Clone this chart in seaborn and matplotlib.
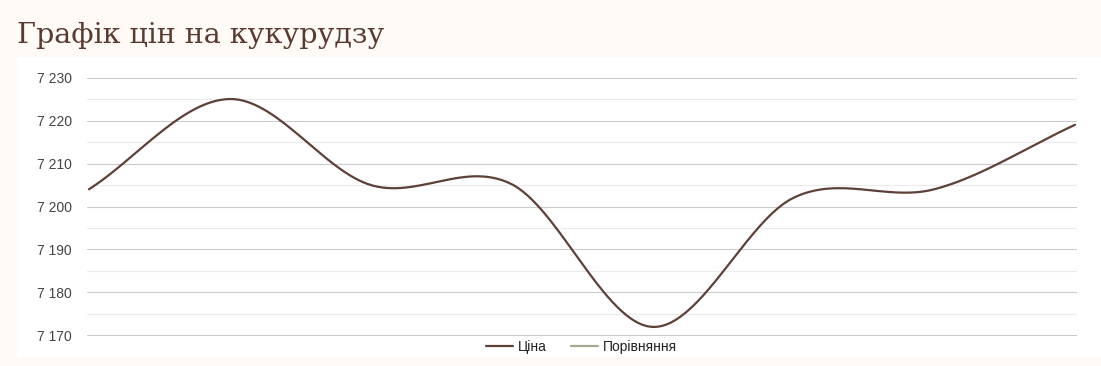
import numpy as np
import pandas as pd
import matplotlib
matplotlib.use("Agg")
import matplotlib.pyplot as plt
from matplotlib.lines import Line2D
from matplotlib.patches import Rectangle
from matplotlib.ticker import MultipleLocator, FuncFormatter
import seaborn as sns

# ---- data ----
title = "Графік цін на кукурудзу"
series_names = ["Ціна", "Порівняння"]
point_index = [0, 1, 2, 3, 4, 5, 6, 7]
price = [7204, 7225, 7205, 7205.2, 7172, 7202, 7204, 7219]
comparison = []  # empty series (legend only)
y_ticks = [7170, 7180, 7190, 7200, 7210, 7220, 7230]

# ---- style ----
W, H = 1101, 366
BG = "#fffaf6"
PRICE_COLOR = "#5d4037"
COMP_COLOR = "#a8a890"

sns.set_style("white")
plt.rcParams["font.family"] = ["Liberation Sans", "DejaVu Sans"]


def catmull_rom(x, y, n=60):
    x = np.asarray(x, float)
    y = np.asarray(y, float)
    m = np.zeros_like(y)
    m[1:-1] = (y[2:] - y[:-2]) / (x[2:] - x[:-2])
    m[0] = (y[1] - y[0]) / (x[1] - x[0])
    m[-1] = (y[-1] - y[-2]) / (x[-1] - x[-2])
    xs, ys = [], []
    for i in range(len(x) - 1):
        h = x[i + 1] - x[i]
        t = np.linspace(0, 1, n, endpoint=(i == len(x) - 2))
        h00 = 2 * t**3 - 3 * t**2 + 1
        h10 = t**3 - 2 * t**2 + t
        h01 = -2 * t**3 + 3 * t**2
        h11 = t**3 - t**2
        xs.append(x[i] + t * h)
        ys.append(h00 * y[i] + h10 * h * m[i] + h01 * y[i + 1] + h11 * h * m[i + 1])
    return np.concatenate(xs), np.concatenate(ys)


fig = plt.figure(figsize=(W / 100, H / 100), dpi=100, facecolor=BG)

# white chart panel
fig.patches.append(Rectangle((17 / W, 1 - 357 / H), (W - 17) / W, 300 / H,
                             transform=fig.transFigure, facecolor="white",
                             edgecolor="none", zorder=-10))

ax_left, ax_right = 87 / W, 1077 / W
ax_top, ax_bottom = 1 - 77 / H, 1 - 336 / H
ax = fig.add_axes([ax_left, ax_bottom, ax_right - ax_left, ax_top - ax_bottom])
ax.set_facecolor("none")
ax.set_zorder(1)

sx, sy = catmull_rom(point_index, price)
df = pd.DataFrame({"x": sx, "y": sy, "series": series_names[0]})
sns.lineplot(data=df, x="x", y="y", color=PRICE_COLOR, linewidth=1.6,
             ax=ax, sort=False, estimator=None, legend=False, zorder=3)

pad = 2 / 140.86
ax.set_xlim(point_index[0] - pad, point_index[-1] + pad)
ax.set_ylim(y_ticks[0] - 0.12, y_ticks[-1] + 0.12)
ax.set_yticks(y_ticks)
ax.yaxis.set_minor_locator(MultipleLocator(5))
ax.yaxis.set_major_formatter(FuncFormatter(lambda v, p: f"{int(round(v)):,}".replace(",", " ")))
ax.set_xticks([])
ax.set_xlabel("")
ax.set_ylabel("")
ax.grid(axis="y", which="major", color="#cccccc", linewidth=0.8, zorder=1)
ax.grid(axis="y", which="minor", color="#ebebeb", linewidth=0.8, zorder=1)
ax.set_axisbelow(True)
for s in ax.spines.values():
    s.set_visible(False)
ax.tick_params(axis="y", which="both", length=0, pad=11, labelsize=10, labelcolor="#444444")

fig.text(17 / W, 1 - 43 / H, title, family="DejaVu Serif", fontsize=20.5,
         color="#5a3a30", ha="left", va="baseline")

handles = [Line2D([], [], color=PRICE_COLOR, linewidth=1.6),
           Line2D([], [], color=COMP_COLOR, linewidth=1.6)]
fig.legend(handles, series_names, loc="center", bbox_to_anchor=(581.5 / W, 1 - 347 / H),
           ncol=2, frameon=False, fontsize=10, handlelength=1.95, handletextpad=0.36,
           columnspacing=1.73, labelcolor="#222222", borderpad=0)

fig.savefig("out.png", dpi=100, facecolor=BG)
